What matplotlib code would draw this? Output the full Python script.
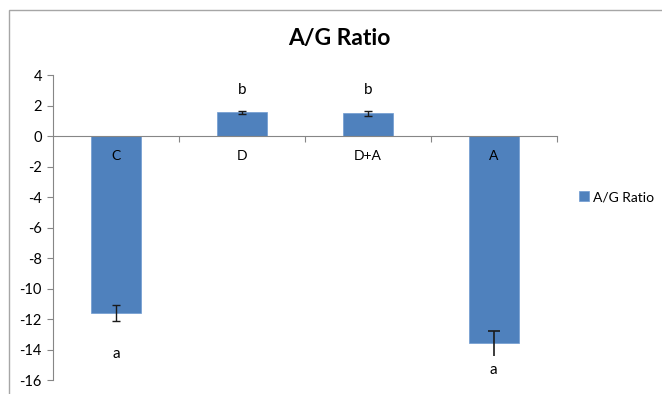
import matplotlib
matplotlib.use("Agg")
import matplotlib.pyplot as plt
from matplotlib.patches import Rectangle

categories = ["C", "D", "D+A", "A"]
values = [-11.6, 1.55, 1.49, -13.6]
errors = [0.52, 0.08, 0.15, 0.8]
letters = ["a", "b", "b", "a"]
letter_y = [-14.3, 3.0, 3.0, -15.35]
yticks = [4, 2, 0, -2, -4, -6, -8, -10, -12, -14, -16]
series_name = "A/G Ratio"
title = "A/G Ratio"

plt.rcParams['font.family'] = ['Lato', 'DejaVu Sans']
fig = plt.figure(figsize=(6.62, 3.94), dpi=100)
border = Rectangle((9 / 662, -0.05), 1.0, 1.05 - 10 / 394, transform=fig.transFigure,
                   fill=False, edgecolor="#a6a6a6", linewidth=1.0)
fig.patches.append(border)

ax = fig.add_axes([0.080, 0.0355, 0.761, 0.774])
x = list(range(len(categories)))
color = "#4f81bd"
ax.bar(x, values, width=0.4, color=color, edgecolor="#6f9bd1", linewidth=0.5,
       label=series_name, zorder=2)
# error bars: first three with both caps, last one with top cap only (as in reference)
ax.errorbar(x[:3], values[:3], yerr=errors[:3], fmt="none", ecolor="#1a1a1a", elinewidth=1,
            capsize=3, capthick=1, zorder=3)
ax.errorbar(x[3:], values[3:], yerr=errors[3:], fmt="none", ecolor="#1a1a1a", elinewidth=1.2,
            capsize=0, zorder=3)
ax.plot(x[3:], [values[3] + errors[3]], marker="_", markersize=9, markeredgewidth=1.2,
        color="#1a1a1a", linestyle="none", zorder=3)

ax.set_xlim(-0.5, 3.5)
ax.set_ylim(-16, 4)
ax.set_yticks(yticks)
ax.set_yticklabels([str(t) for t in yticks], fontsize=10.5, color="#000000")
ax.tick_params(axis='y', direction='out', length=4, color="#868686", pad=4)

ax.spines['top'].set_visible(False)
ax.spines['right'].set_visible(False)
ax.spines['left'].set_color("#868686")
ax.spines['bottom'].set_position(('data', 0))
ax.spines['bottom'].set_color("#868686")
ax.set_xticks([0.5, 1.5, 2.5, 3.5])
ax.set_xticklabels([])
ax.tick_params(axis='x', direction='out', length=4, color="#868686")

for i, c in enumerate(categories):
    ax.text(i, -1.3, c, ha='center', va='center', fontsize=10, zorder=4)
for i, l in enumerate(letters):
    ax.text(i, letter_y[i], l, ha='center', va='center', fontsize=11, zorder=4)

fig.text(339 / 662, 1 - 39 / 394, title, ha='center', va='center',
         fontsize=16.5, fontweight='bold')

leg = ax.legend(loc='center left', bbox_to_anchor=(1.02, 0.6), frameon=False,
                fontsize=10, handlelength=0.7, handleheight=0.7, handletextpad=0.3)

fig.savefig("out.png", dpi=100)
